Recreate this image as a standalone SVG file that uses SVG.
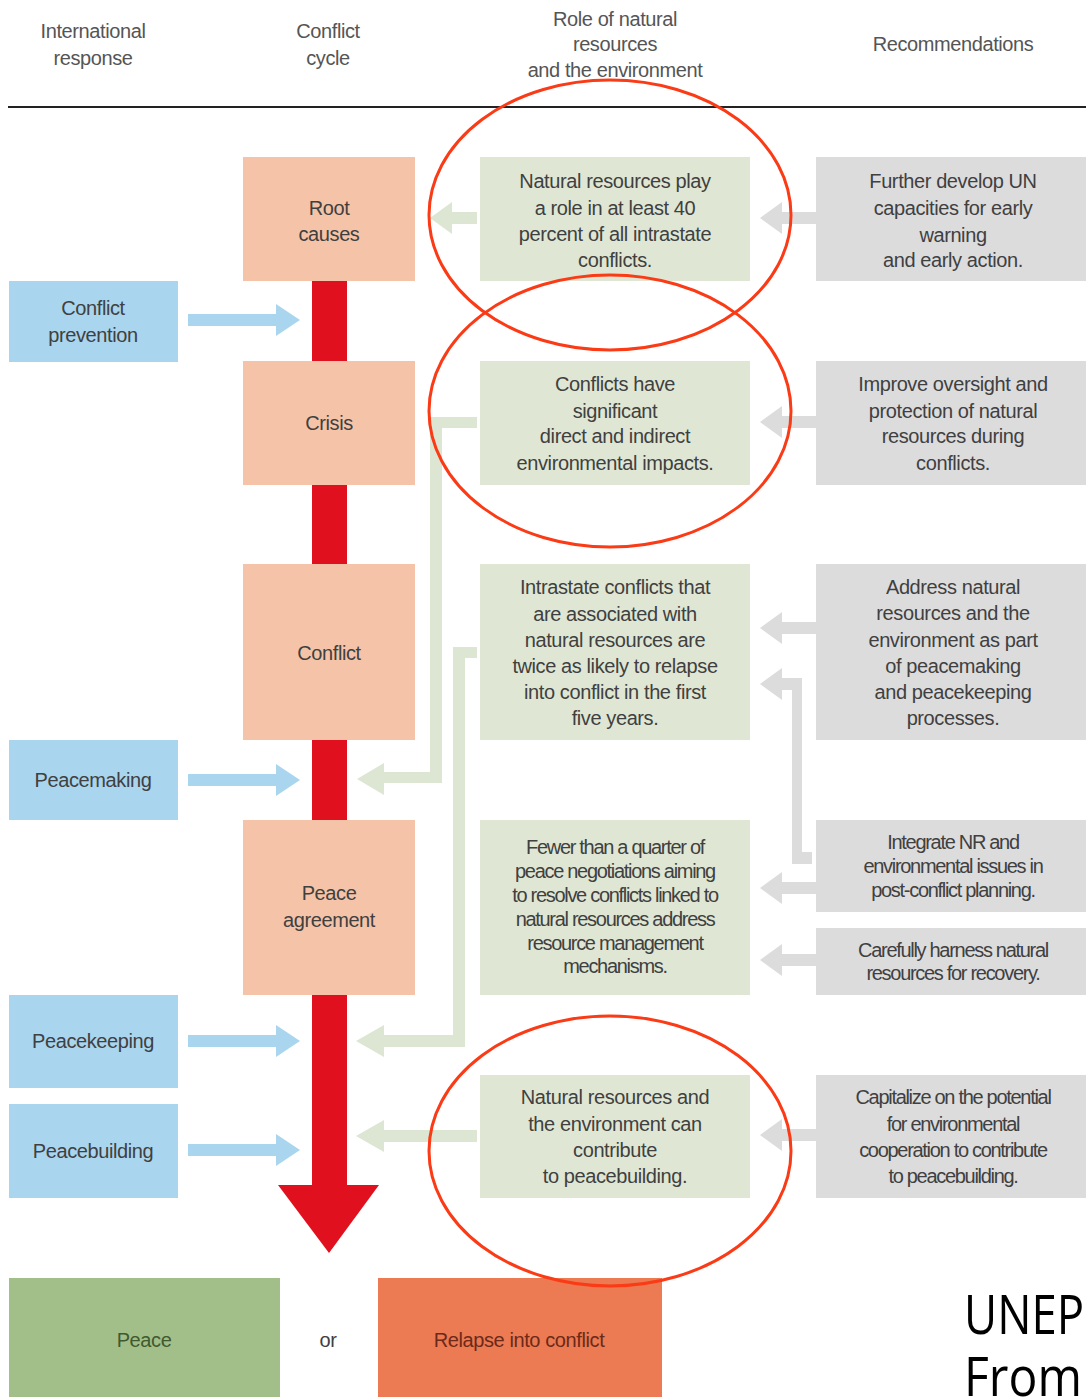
<svg xmlns="http://www.w3.org/2000/svg" width="1086" height="1397" viewBox="0 0 1086 1397">
<style>
text{font-family:"Liberation Sans",Arial,sans-serif;font-size:20px;fill:#404040;text-anchor:middle;letter-spacing:-0.4px}
.hd{fill:#555}
.or{fill:#f5c4a8}
.bl{fill:#a9d5ef}
.gr{fill:#dfe7d4}
.gy{fill:#dcdcdd}
.cond{letter-spacing:-1.3px}
.ell{fill:none;stroke:#fb3a16;stroke-width:3}
.cap{font-family:"Open Sans","Noto Sans",sans-serif;font-size:54px;fill:#000;text-anchor:start;letter-spacing:0}
</style>
<defs>
<path id="bArrow" d="M0,-6 H88 V-16 L112,0 L88,16 V6 H0 Z" fill="#a9d5ef"/>
<path id="gyArrow" d="M0,-6 H-34 V-16 L-56,0 L-34,16 V6 H0 Z" fill="#dcdcdd"/>
</defs>
<rect width="1086" height="1397" fill="#fff"/>
<g id="header">
<text class="hd" x="93" y="38">International</text>
<text class="hd" x="93" y="65">response</text>
<text class="hd" x="328" y="38">Conflict</text>
<text class="hd" x="328" y="65">cycle</text>
<text class="hd" x="615" y="26">Role of natural</text>
<text class="hd" x="615" y="51">resources</text>
<text class="hd" x="615" y="77">and the environment</text>
<text class="hd" x="953" y="51">Recommendations</text>
<line x1="8" y1="107" x2="1086" y2="107" stroke="#222" stroke-width="2"/>
</g>
<g id="connectors">
<rect x="312" y="281" width="35" height="904" fill="#e0101e"/>
<path d="M278,1185 H379 L329,1253 Z" fill="#e0101e"/>
<use href="#bArrow" x="188" y="320"/>
<use href="#bArrow" x="188" y="780"/>
<use href="#bArrow" x="188" y="1041"/>
<use href="#bArrow" x="188" y="1150"/>
<g fill="#dde6d3">
<path d="M477,212 H452 V202 L430,218 L452,234 V224 H477 Z"/>
<path d="M477,417 H430 V772 H384 V763 L357,779 L384,795 V783 H442 V428 H477 Z"/>
<path d="M477,647 H453 V1035 H384 V1025 L356,1041 L384,1057 V1047 H465 V658 H477 Z"/>
<path d="M477,1130 H384 V1120 L356,1136 L384,1152 V1142 H477 Z"/>
</g>
<use href="#gyArrow" x="816" y="218"/>
<use href="#gyArrow" x="816" y="422"/>
<use href="#gyArrow" x="816" y="628"/>
<path d="M812,852 H802 V678 H782 V668 L760,684 L782,700 V690 H792 V864 H812 Z" fill="#dcdcdd"/>
<use href="#gyArrow" x="816" y="888"/>
<use href="#gyArrow" x="816" y="960"/>
<use href="#gyArrow" x="816" y="1135"/>
</g>
<g id="root-causes"><rect class="or" x="243" y="157" width="172" height="124"/><text x="329" y="215">Root</text><text x="329" y="241">causes</text></g>
<g id="crisis"><rect class="or" x="243" y="361" width="172" height="124"/><text x="329" y="430">Crisis</text></g>
<g id="conflict"><rect class="or" x="243" y="564" width="172" height="176"/><text x="329" y="660">Conflict</text></g>
<g id="peace-agreement"><rect class="or" x="243" y="820" width="172" height="175"/><text x="329" y="900">Peace</text><text x="329" y="927">agreement</text></g>
<g id="conflict-prevention"><rect class="bl" x="9" y="281" width="169" height="81"/><text x="93" y="315">Conflict</text><text x="93" y="342">prevention</text></g>
<g id="peacemaking"><rect class="bl" x="9" y="740" width="169" height="80"/><text x="93" y="787">Peacemaking</text></g>
<g id="peacekeeping"><rect class="bl" x="9" y="995" width="169" height="93"/><text x="93" y="1048">Peacekeeping</text></g>
<g id="peacebuilding"><rect class="bl" x="9" y="1104" width="169" height="94"/><text x="93" y="1158">Peacebuilding</text></g>
<g id="role-1"><rect class="gr" x="480" y="157" width="270" height="124"/>
<text x="615" y="188">Natural resources play</text><text x="615" y="215">a role in at least 40</text><text x="615" y="241">percent of all intrastate</text><text x="615" y="267">conflicts.</text></g>
<g id="role-2"><rect class="gr" x="480" y="361" width="270" height="124"/>
<text x="615" y="391">Conflicts have</text><text x="615" y="418">significant</text><text x="615" y="443">direct and indirect</text><text x="615" y="470">environmental impacts.</text></g>
<g id="role-3"><rect class="gr" x="480" y="564" width="270" height="176"/>
<text x="615" y="594">Intrastate conflicts that</text><text x="615" y="621">are associated with</text><text x="615" y="647">natural resources are</text><text x="615" y="673">twice as likely to relapse</text><text x="615" y="699">into conflict in the first</text><text x="615" y="725">five years.</text></g>
<g id="role-4"><rect class="gr" x="480" y="820" width="270" height="175"/>
<text class="cond" x="615" y="854">Fewer than a quarter of</text><text class="cond" x="615" y="878">peace negotiations aiming</text><text class="cond" x="615" y="902">to resolve conflicts linked to</text><text class="cond" x="615" y="926">natural resources address</text><text class="cond" x="615" y="950">resource management</text><text class="cond" x="615" y="973">mechanisms.</text></g>
<g id="role-5"><rect class="gr" x="480" y="1075" width="270" height="123"/>
<text x="615" y="1104">Natural resources and</text><text x="615" y="1131">the environment can</text><text x="615" y="1157">contribute</text><text x="615" y="1183">to peacebuilding.</text></g>
<g id="rec-1"><rect class="gy" x="816" y="157" width="270" height="124"/>
<text x="953" y="188">Further develop UN</text><text x="953" y="215">capacities for early</text><text x="953" y="242">warning</text><text x="953" y="267">and early action.</text></g>
<g id="rec-2"><rect class="gy" x="816" y="361" width="270" height="124"/>
<text x="953" y="391">Improve oversight and</text><text x="953" y="418">protection of natural</text><text x="953" y="443">resources during</text><text x="953" y="470">conflicts.</text></g>
<g id="rec-3"><rect class="gy" x="816" y="564" width="270" height="176"/>
<text x="953" y="594">Address natural</text><text x="953" y="620">resources and the</text><text x="953" y="647">environment as part</text><text x="953" y="673">of peacemaking</text><text x="953" y="699">and peacekeeping</text><text x="953" y="725">processes.</text></g>
<g id="rec-4"><rect class="gy" x="816" y="820" width="270" height="92"/>
<text class="cond" x="953" y="849">Integrate NR and</text><text class="cond" x="953" y="873">environmental issues in</text><text class="cond" x="953" y="897">post-conflict planning.</text></g>
<g id="rec-5"><rect class="gy" x="816" y="928" width="270" height="67"/>
<text class="cond" x="953" y="957">Carefully harness natural</text><text class="cond" x="953" y="980">resources for recovery.</text></g>
<g id="rec-6"><rect class="gy" x="816" y="1075" width="270" height="123"/>
<text class="cond" x="953" y="1104">Capitalize on the potential</text><text class="cond" x="953" y="1131">for environmental</text><text class="cond" x="953" y="1157">cooperation to contribute</text><text class="cond" x="953" y="1183">to peacebuilding.</text></g>
<g id="peace"><rect x="9" y="1278" width="271" height="119" fill="#a3bf89"/><text x="144" y="1347" style="fill:#3f5a30">Peace</text></g>
<g id="or"><text x="328" y="1347">or</text></g>
<g id="relapse"><rect x="378" y="1278" width="284" height="119" fill="#ec7a52"/><text x="519" y="1347" style="fill:#6b2a1a">Relapse into conflict</text></g>
<g id="highlights">
<ellipse class="ell" cx="610" cy="215" rx="181" ry="135"/>
<ellipse class="ell" cx="610" cy="411" rx="181" ry="136"/>
<ellipse class="ell" cx="610" cy="1151" rx="181" ry="135"/>
</g>
<g id="caption">
<text class="cap" x="964" y="1334" textLength="120" lengthAdjust="spacingAndGlyphs">UNEP</text>
<text class="cap" x="964" y="1396" textLength="118" lengthAdjust="spacingAndGlyphs">From</text>
</g>
</svg>
